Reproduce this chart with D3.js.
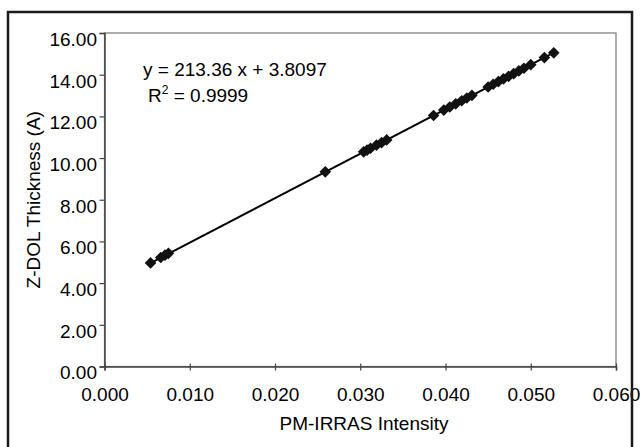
<!DOCTYPE html>
<html>
<head>
<meta charset="utf-8">
<script src="https://cdn.jsdelivr.net/npm/d3@7"></script>
<style>
html,body{margin:0;padding:0;background:#fff;}
svg{display:block;}
text{font-family:"Liberation Sans",Arial,Helvetica,sans-serif;fill:#000;}
</style>
</head>
<body>
<svg id="chart" width="640" height="447"></svg>
<script>
// Data
const intensity = [0.0054,0.0066,0.0071,0.0075,0.0259,0.0304,0.0308,0.0312,0.0319,0.0325,0.0331,
  0.0386,0.0398,0.0405,0.0412,0.0419,0.0425,0.0431,
  0.0450,0.0456,0.0462,0.0468,0.0474,0.0480,0.0486,0.0492,0.0500,0.0516,0.0527];
const thickness = [4.97,5.23,5.34,5.43,9.34,10.30,10.38,10.47,10.62,10.74,10.87,
  12.04,12.30,12.45,12.60,12.75,12.88,13.01,
  13.41,13.54,13.67,13.80,13.92,14.05,14.18,14.31,14.48,14.82,15.05];
const xTicks = [0,0.01,0.02,0.03,0.04,0.05,0.06];
const yTicks = [0,2,4,6,8,10,12,14,16];
const slope = 213.36, intercept = 3.8097;
const eqLabel = "y = 213.36 x + 3.8097";
const r2Label = "= 0.9999";
const xTitle = "PM-IRRAS Intensity";
const yTitle = "Z-DOL Thickness (A)";

const svg = d3.select("#chart");
const L = 104.5, T = 33, R = 616, B = 366.5;
const x = d3.scaleLinear().domain([0,0.06]).range([L,R]);
const y = d3.scaleLinear().domain([0,16]).range([B,T]);
const FS = "19px";

// plot border (top & right)
svg.append("rect").attr("x",L).attr("y",T).attr("width",R-L).attr("height",B-T)
  .attr("fill","none").attr("stroke","#777").attr("stroke-width",1.2);

// axes
const yAxis = d3.axisLeft(y).tickValues(yTicks).tickFormat(d3.format(".2f")).tickSize(5).tickPadding(2.5);
const gy = svg.append("g").attr("transform",`translate(${L},0)`).call(yAxis);
gy.selectAll("text").style("font-size",FS).attr("dy","0.65em");
gy.select(".domain").attr("stroke","#444").attr("stroke-width",1.5);
gy.selectAll(".tick line").attr("stroke","#444").attr("stroke-width",1.2);

const xAxis = d3.axisBottom(x).tickValues(xTicks).tickFormat(d3.format(".3f")).tickSize(4).tickPadding(17);
const gx = svg.append("g").attr("transform",`translate(0,${B})`).call(xAxis);
gx.selectAll("text").style("font-size",FS);
gx.select(".domain").attr("stroke","#444").attr("stroke-width",1.5);
gx.selectAll(".tick line").attr("stroke","#444").attr("stroke-width",1.2).attr("y1",-3);

// trendline over data range
const xmin = d3.min(intensity), xmax = d3.max(intensity);
svg.append("line")
  .attr("x1",x(xmin)).attr("y1",y(slope*xmin+intercept))
  .attr("x2",x(xmax)).attr("y2",y(slope*xmax+intercept))
  .attr("stroke","#000").attr("stroke-width",2);

// points (diamonds)
const sym = d3.symbol().type(d3.symbolSquare).size(68);
svg.append("g").selectAll("path").data(intensity).join("path")
  .attr("d",sym)
  .attr("transform",(d,i)=>`translate(${x(d)},${y(thickness[i])}) rotate(45)`)
  .attr("fill","#111");

// equation
svg.append("text").attr("x",143).attr("y",76).style("font-size",FS).text(eqLabel);
const r2 = svg.append("text").attr("x",148).attr("y",102).style("font-size",FS);
r2.append("tspan").text("R");
r2.append("tspan").attr("dy",-8).style("font-size","12px").text("2");
r2.append("tspan").attr("dy",8).text(" " + r2Label);

// axis titles
svg.append("text").attr("x",364).attr("y",430).attr("text-anchor","middle")
  .style("font-size",FS).text(xTitle);
svg.append("text").attr("transform",`translate(40,${(T+B)/2}) rotate(-90)`)
  .attr("text-anchor","middle").style("font-size",FS).text(yTitle);

// outer frame
svg.append("rect").attr("x",8).attr("y",12).attr("width",624).attr("height",445)
  .attr("fill","none").attr("stroke","#1a1a1a").attr("stroke-width",2.5);
</script>
</body>
</html>
